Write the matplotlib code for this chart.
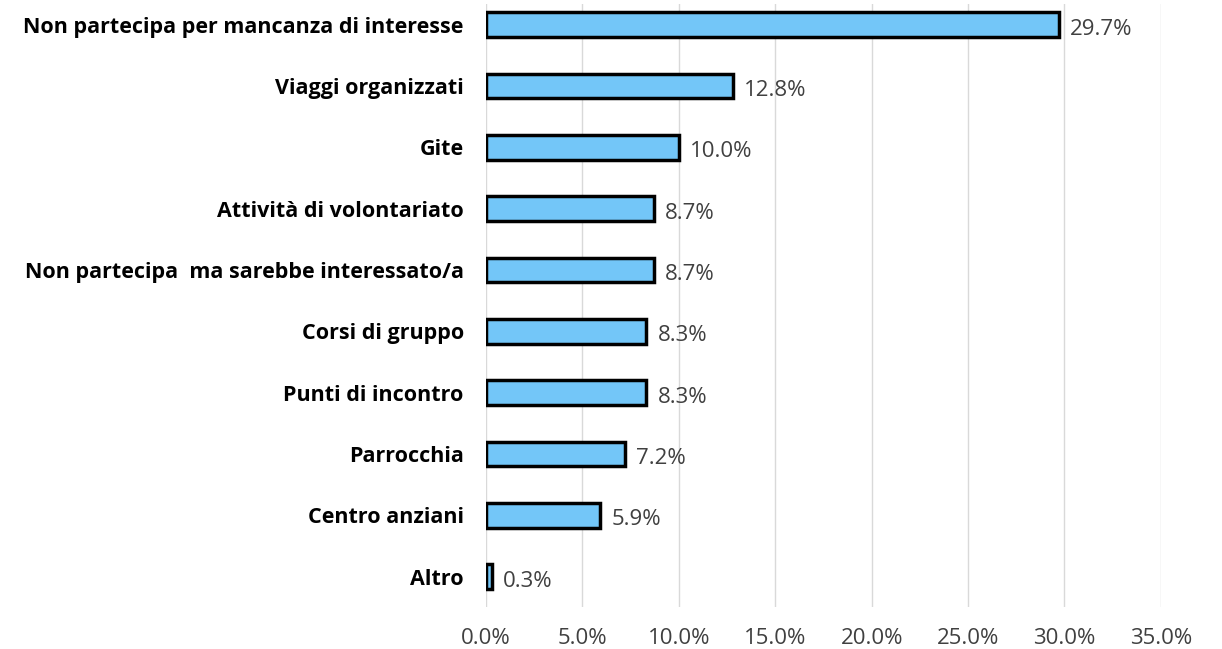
import matplotlib.pyplot as plt
import numpy as np

plt.rcParams['font.family'] = ['Open Sans', 'DejaVu Sans']

categorie = ["Non partecipa per mancanza di interesse", "Viaggi organizzati", "Gite",
             "Attività di volontariato", "Non partecipa  ma sarebbe interessato/a",
             "Corsi di gruppo", "Punti di incontro", "Parrocchia", "Centro anziani", "Altro"]
valori = [29.7, 12.8, 10.0, 8.7, 8.7, 8.3, 8.3, 7.2, 5.9, 0.3]
ticks = [0, 5, 10, 15, 20, 25, 30, 35]

fig = plt.figure(figsize=(12.22, 6.49), dpi=100)
ax = fig.add_axes([0.3977, 0.065, 0.5523, 0.929])

y = np.arange(len(categorie))
ax.barh(y, valori, height=0.4, color='#73C6F8', edgecolor='black', linewidth=2.5, zorder=3)
for yi, v in zip(y, valori):
    ax.text(v + 0.6, yi + 0.03, f"{v:.1f}%", va='center_baseline', ha='left',
            fontsize=16, color='#404040')

ax.set_yticks(y)
ax.set_yticklabels(categorie, fontsize=15.5, fontweight='bold', color='black')
ax.set_ylim(9.49, -0.34)
ax.set_xlim(0, 35)
ax.set_xticks(ticks)
ax.set_xticklabels([f"{t:.1f}%" for t in ticks], fontsize=16, color='#404040')
ax.tick_params(axis='both', length=0)
ax.tick_params(axis='x', pad=15)
ax.tick_params(axis='y', pad=16)
ax.xaxis.grid(True, color='#d9d9d9', linewidth=1, zorder=0)
for s in ax.spines.values():
    s.set_visible(False)

fig.savefig("out.png")
